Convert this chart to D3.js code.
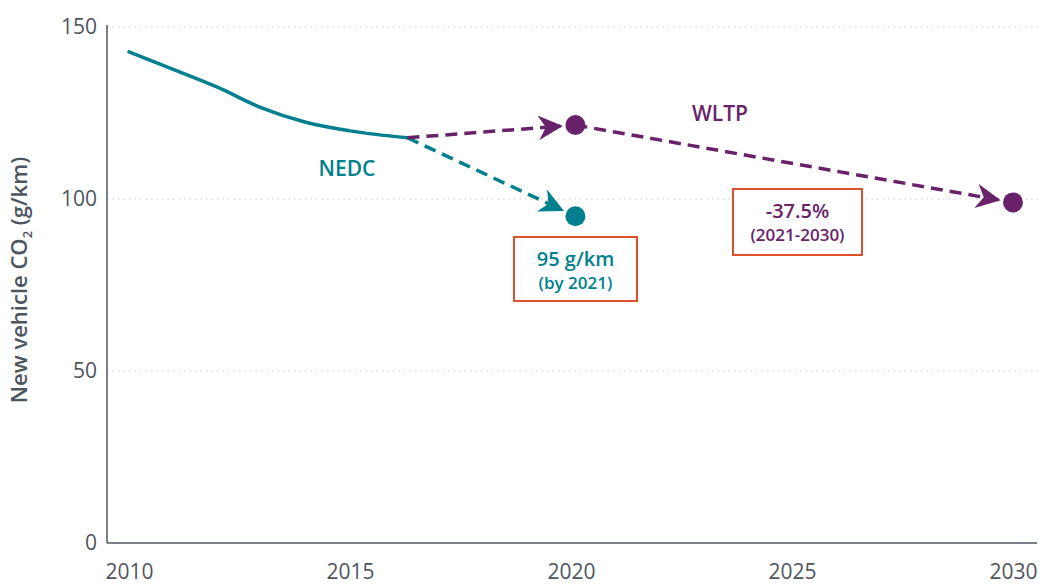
<!DOCTYPE html>
<html>
<head>
    <title>CO2 chart</title>
    <script src="https://d3js.org/d3.v7.min.js"></script>
    <style>
        body { margin: 0; background: #fff; }
        text { font-family: "Open Sans", sans-serif; }
    </style>
</head>
<body>
<script>
    var w = 1045;
    var h = 584;

    // data
    var nedcYears = [2010, 2011, 2012, 2013, 2014, 2015, 2016.3];
    var nedcValues = [142.8, 137.7, 132.5, 126.5, 122.3, 119.8, 117.8];
    var nedcTarget = [2020.1, 95];
    var wltpStart = [2020.1, 121.5];
    var wltpEnd = [2030, 99];
    var xTicks = [2010, 2015, 2020, 2025, 2030];
    var yTicks = [0, 50, 100, 150];

    var teal = "#00808e";
    var purple = "#69226a";
    var gray = "#4d5660";
    var boxRed = "#e0502d";

    var xScale = d3.scaleLinear().domain([2010, 2030]).range([129, 1013]);
    var yScale = d3.scaleLinear().domain([0, 150]).range([543, 27]);

    var svg = d3.select("body").append("svg")
                .attr("width", w)
                .attr("height", h);

    // arrow markers
    var defs = svg.append("defs");
    [["arrT", teal], ["arrP", purple]].forEach(function(m){
        defs.append("marker")
            .attr("id", m[0])
            .attr("viewBox", "0 0 10 10")
            .attr("refX", 9).attr("refY", 5)
            .attr("markerWidth", 7).attr("markerHeight", 7)
            .attr("markerUnits", "strokeWidth")
            .attr("orient", "auto")
            .append("path")
            .attr("d", "M0,0 L10,5 L0,10 L3,5 Z")
            .attr("fill", m[1]);
    });

    // gridlines
    svg.selectAll("line.grid")
        .data(yTicks.filter(function(d){return d > 0;}))
        .enter().append("line")
        .attr("class", "grid")
        .attr("x1", 107).attr("x2", 1040)
        .attr("y1", function(d){return yScale(d);})
        .attr("y2", function(d){return yScale(d);})
        .attr("stroke", "#c8c8c8")
        .attr("stroke-width", 1.2)
        .attr("stroke-dasharray", "1.5,4");

    // axes
    var yAxis = d3.axisLeft(yScale).tickValues(yTicks).tickSize(0).tickPadding(10);
    var gy = svg.append("g").attr("transform", "translate(107,0)").call(yAxis);
    gy.select(".domain").attr("stroke", gray).attr("stroke-width", 1.5)
        .attr("d", "M0," + (yScale(150) - 2) + "V" + yScale(0));
    gy.selectAll("text").attr("fill", gray).attr("font-size", 21)
        .style("font-family", "Open Sans, sans-serif");

    var xAxis = d3.axisBottom(xScale).tickValues(xTicks).tickSize(0).tickPadding(21)
                  .tickFormat(d3.format("d"));
    var gx = svg.append("g").attr("transform", "translate(0,543)").call(xAxis);
    gx.select(".domain").attr("stroke", gray).attr("stroke-width", 1.5)
        .attr("d", "M107,0H1037");
    gx.selectAll("text").attr("fill", gray).attr("font-size", 21)
        .style("font-family", "Open Sans, sans-serif");

    // y title
    var yt = svg.append("text")
        .attr("transform", "translate(27,280) rotate(-90)")
        .attr("text-anchor", "middle")
        .attr("fill", gray)
        .attr("font-size", 22)
        .attr("font-weight", 600);
    yt.append("tspan").text("New vehicle CO");
    yt.append("tspan").text("2").attr("font-size", 13).attr("dy", 5);
    yt.append("tspan").text(" (g/km)").attr("dy", -5);

    // NEDC history
    var pts = nedcYears.map(function(y, i){ return [y, nedcValues[i]]; });
    var line = d3.line()
        .x(function(d){return xScale(d[0]);})
        .y(function(d){return yScale(d[1]);})
        .curve(d3.curveMonotoneX);
    svg.append("path")
        .datum(pts)
        .attr("d", line)
        .attr("fill", "none")
        .attr("stroke", teal)
        .attr("stroke-width", 3.5)
        .attr("stroke-linecap", "round");

    var last = pts[pts.length - 1];
    var r = 10;

    function dashed(from, to, color, marker) {
        var x1 = xScale(from[0]), y1 = yScale(from[1]);
        var x2 = xScale(to[0]), y2 = yScale(to[1]);
        var dx = x2 - x1, dy = y2 - y1, len = Math.sqrt(dx*dx + dy*dy);
        var gap = r + 5;
        svg.append("line")
            .attr("x1", x1).attr("y1", y1)
            .attr("x2", x2 - dx/len*gap).attr("y2", y2 - dy/len*gap)
            .attr("stroke", color)
            .attr("stroke-width", 3.5)
            .attr("stroke-dasharray", "12,7")
            .attr("marker-end", "url(#" + marker + ")");
    }

    dashed(last, nedcTarget, teal, "arrT");
    dashed(last, wltpStart, purple, "arrP");
    dashed(wltpStart, wltpEnd, purple, "arrP");

    // dots
    svg.selectAll("circle")
        .data([[nedcTarget, teal], [wltpStart, purple], [wltpEnd, purple]])
        .enter().append("circle")
        .attr("cx", function(d){return xScale(d[0][0]);})
        .attr("cy", function(d){return yScale(d[0][1]);})
        .attr("r", r)
        .attr("fill", function(d){return d[1];});

    // labels
    svg.append("text").text("NEDC")
        .attr("x", 347).attr("y", 176)
        .attr("text-anchor", "middle")
        .attr("fill", teal).attr("font-size", 21).attr("font-weight", 600);
    svg.append("text").text("WLTP")
        .attr("x", 720).attr("y", 121)
        .attr("text-anchor", "middle")
        .attr("fill", purple).attr("font-size", 21).attr("font-weight", 600);

    function box(x, y, bw, bh, l1, l2, color) {
        svg.append("rect")
            .attr("x", x).attr("y", y).attr("width", bw).attr("height", bh)
            .attr("fill", "#fff")
            .attr("stroke", boxRed).attr("stroke-width", 2);
        svg.append("text").text(l1)
            .attr("x", x + bw/2).attr("y", y + 29)
            .attr("text-anchor", "middle")
            .attr("fill", color).attr("font-size", 20).attr("font-weight", 600);
        svg.append("text").text(l2)
            .attr("x", x + bw/2).attr("y", y + 52)
            .attr("text-anchor", "middle")
            .attr("fill", color).attr("font-size", 17).attr("font-weight", 600);
    }
    box(514, 237, 123, 64, "95 g/km", "(by 2021)", teal);
    box(733, 189, 129, 66, "-37.5%", "(2021-2030)", purple);
</script>
</body>
</html>
